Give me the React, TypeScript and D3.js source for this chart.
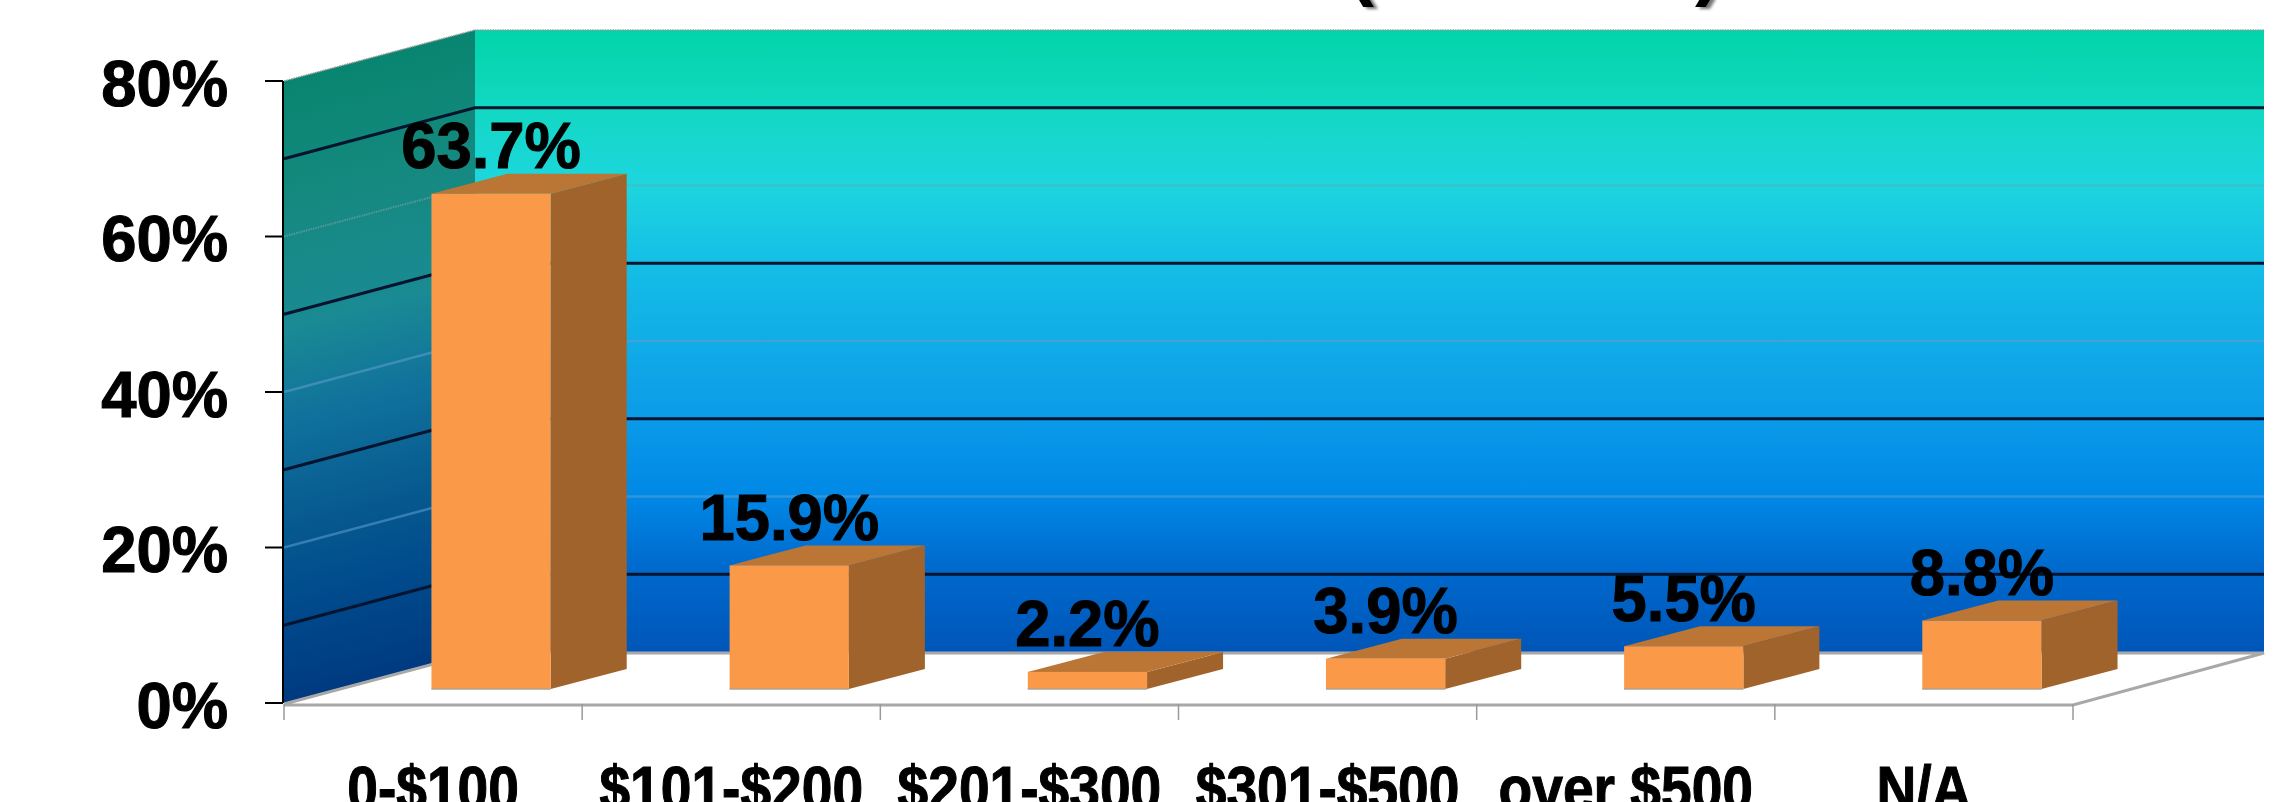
import React from "react";
import * as d3 from "d3";

const categories = ["0-$100", "$101-$200", "$201-$300", "$301-$500", "over $500", "N/A"];
const shares = [63.7, 15.9, 2.2, 3.9, 5.5, 8.8];
const shareLabels = ["63.7%", "15.9%", "2.2%", "3.9%", "5.5%", "8.8%"];
const axisTicks = [0, 20, 40, 60, 80];
const darkGrid = [10, 30, 50, 70];
const faintGrid = [20, 40];
const dottedGrid = [60];

const WIDTH = 2276;
const HEIGHT = 802;
const FONT = "'Liberation Sans', Arial, sans-serif";

const x0 = 284;
const x1 = 2073;
const wallDx = 191;
const wallDy = -51;
const yScale = d3.scaleLinear().domain([0, 80]).range([703, 81]);
const xScale = d3.scaleBand<string>().domain(categories).range([x0, x1]).paddingInner(0.6).paddingOuter(0.3);
const xEdges = d3.range(categories.length + 1).map((i) => x0 + (i * (x1 - x0)) / categories.length);

const barFrontDx = 58;
const barFrontBase = 689;
const barDx = 76;
const barDy = -20;
const pxPerUnit = yScale(0) - yScale(1);

const line = d3.line<[number, number]>();
const poly = (pts: [number, number][]) => line(pts) + "Z";

const backStops: [number, string][] = [
  [0, "#02d4a8"], [0.125, "#12d8c2"], [0.245, "#1dd6de"], [0.37, "#15bfe6"],
  [0.6, "#0d9ee8"], [0.75, "#0088e6"], [0.87, "#0068cc"], [1, "#0056b8"],
];
const sideStops: [number, string][] = [
  [0, "#088570"], [0.2, "#15897f"], [0.4, "#1a8a94"], [0.55, "#10719c"],
  [0.72, "#06598f"], [0.85, "#004a8c"], [1, "#003a80"],
];

function BoldText(props: { x: number; y: number; size: number; anchor: string; children: string; sx?: number }) {
  return (
    <text
      transform={`translate(${props.x},${props.y}) scale(${props.sx ?? 0.975},1)`}
      fontFamily={FONT}
      fontWeight="bold"
      fontSize={props.size}
      textAnchor={props.anchor}
      fill="#000"
      stroke="#000"
      strokeWidth={1.1}
    >
      {props.children}
    </text>
  );
}

export default function App() {
  const topY = yScale(80);
  const botY = yScale(0);
  return (
    <svg
      width={WIDTH}
      height={HEIGHT}
      viewBox={`0 0 ${WIDTH} ${HEIGHT}`}
      style={{ position: "absolute", left: 0, top: 0, display: "block", background: "#fff" }}
    >
      <defs>
        <linearGradient id="back" gradientUnits="userSpaceOnUse" x1={0} x2={0} y1={topY + wallDy} y2={botY + wallDy}>
          {backStops.map(([o, c]) => <stop key={o} offset={o} stopColor={c} />)}
        </linearGradient>
        <linearGradient
          id="side"
          gradientUnits="userSpaceOnUse"
          x1={0}
          x2={0}
          y1={topY}
          y2={botY}
          gradientTransform={`matrix(1 ${wallDy / wallDx} 0 1 0 ${(-x0 * wallDy) / wallDx})`}
        >
          {sideStops.map(([o, c]) => <stop key={o} offset={o} stopColor={c} />)}
        </linearGradient>
        <filter id="soft" x="-30%" y="-30%" width="160%" height="160%">
          <feGaussianBlur stdDeviation="1.6" />
        </filter>
      </defs>

      {/* clipped title remnants */}
      {[["(", 1348], [")", 1695]].map(([t, x]) => (
        <g key={t as string}>
          <text x={(x as number) + 4} y={-7} fontFamily={FONT} fontWeight="bold" fontSize={78} fill="#777" filter="url(#soft)">{t}</text>
          <text x={x as number} y={-9} fontFamily={FONT} fontWeight="bold" fontSize={78} fill="#000">{t}</text>
        </g>
      ))}

      {/* walls */}
      <path d={poly([[x0 + wallDx, topY + wallDy], [x1 + wallDx, topY + wallDy], [x1 + wallDx, botY + wallDy], [x0 + wallDx, botY + wallDy]])} fill="url(#back)" />
      <path d={poly([[x0, topY], [x0 + wallDx, topY + wallDy], [x0 + wallDx, botY + wallDy], [x0, botY]])} fill="url(#side)" />

      {/* grid */}
      {faintGrid.map((v) => (
        <path key={v} d={line([[x0, yScale(v)], [x0 + wallDx, yScale(v) + wallDy], [x1 + wallDx, yScale(v) + wallDy]])!} fill="none" stroke="#5f9fd0" strokeOpacity={0.55} strokeWidth={2.5} />
      ))}
      {dottedGrid.map((v) => (
        <path key={v} d={line([[x0, yScale(v)], [x0 + wallDx, yScale(v) + wallDy], [x1 + wallDx, yScale(v) + wallDy]])!} fill="none" stroke="#6f9fa8" strokeOpacity={0.7} strokeWidth={2} strokeDasharray="1.5 1" />
      ))}
      {darkGrid.map((v) => (
        <path key={v} d={line([[x0, yScale(v)], [x0 + wallDx, yScale(v) + wallDy], [x1 + wallDx, yScale(v) + wallDy]])!} fill="none" stroke="#04142e" strokeWidth={3} />
      ))}
      <path d={line([[x0, topY], [x0 + wallDx, topY + wallDy], [x1 + wallDx, topY + wallDy]])!} fill="none" stroke="#9a9a9a" strokeWidth={1.5} strokeDasharray="1.5 1" />

      {/* floor */}
      <path
        d={line([[x0, botY + 1], [x0 + wallDx, botY + wallDy + 1], [x1 + wallDx, botY + wallDy + 1], [x1, botY + 2], [x0, botY + 2]])!}
        fill="#fff"
        stroke="#a8a8a8"
        strokeWidth={3.2}
      />

      {/* value axis */}
      <line x1={x0 - 1} x2={x0 - 1} y1={topY} y2={botY} stroke="#000" strokeWidth={2} />
      {axisTicks.map((v) => (
        <g key={v}>
          <line x1={265} x2={x0 - 1} y1={yScale(v)} y2={yScale(v)} stroke="#000" strokeWidth={2} />
          <BoldText x={228} y={yScale(v) + 24.5} size={65} anchor="end">{`${v}%`}</BoldText>
        </g>
      ))}

      {/* category ticks */}
      {xEdges.map((x) => (
        <line key={x} x1={x} x2={x} y1={botY + 1} y2={720} stroke="#9a9a9a" strokeWidth={1.5} />
      ))}

      {/* bars */}
      {categories.map((c, i) => {
        const bx = (xScale(c) as number) + barFrontDx;
        const bw = xScale.bandwidth();
        const by = barFrontBase - shares[i] * pxPerUnit;
        return (
          <g key={c}>
            <path d={poly([[bx + bw, by], [bx + bw + barDx, by + barDy], [bx + bw + barDx, barFrontBase + barDy], [bx + bw, barFrontBase]])} fill="#a1632c" />
            <path d={poly([[bx, by], [bx + barDx, by + barDy], [bx + bw + barDx, by + barDy], [bx + bw, by]])} fill="#bb7535" />
            <rect x={bx} y={by} width={bw} height={barFrontBase - by} fill="#fa9a48" />
            <line x1={bx} x2={bx + bw} y1={barFrontBase} y2={barFrontBase} stroke="#b0a090" strokeWidth={1.5} />
          </g>
        );
      })}

      {/* data labels */}
      {categories.map((c, i) => {
        const bx = (xScale(c) as number) + barFrontDx;
        const by = barFrontBase - shares[i] * pxPerUnit;
        return (
          <BoldText key={c} x={bx + xScale.bandwidth() / 2} y={by - 25.5} size={65} anchor="middle">
            {shareLabels[i]}
          </BoldText>
        );
      })}

      {/* category labels */}
      {categories.map((c, i) => (
        <BoldText key={c} x={(xEdges[i] + xEdges[i + 1]) / 2} y={810} size={63} sx={0.875} anchor="middle">
          {c}
        </BoldText>
      ))}
    </svg>
  );
}
